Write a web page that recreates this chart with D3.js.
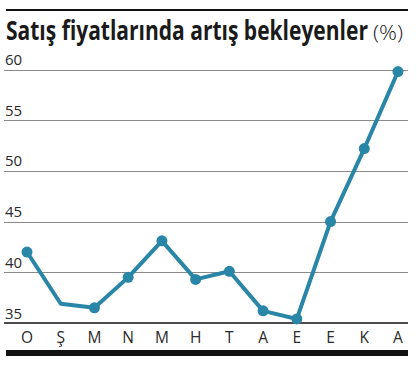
<!DOCTYPE html>
<html>
<head>
<meta charset="utf-8">
<script src="https://cdn.jsdelivr.net/npm/d3@7"></script>
<style>
	body { margin: 0; background: #fff; }
	svg { display: block; }
</style>
</head>
<body>
<script>
	let months = ['O', 'Ş', 'M', 'N', 'M', 'H', 'T', 'A', 'E', 'E', 'K', 'A']
	let values = [42, 36.9, 36.5, 39.5, 43.1, 39.3, 40.1, 36.2, 35.4, 45, 52.2, 59.8]
	// the second month has no dot in the original
	let hasDot = [true, false, true, true, true, true, true, true, true, true, true, true]
	let yTicks = [35, 40, 45, 50, 55, 60]

	let svgWidth = 417
	let svgHeight = 373
	let lineColor = '#2a86a6'

	let svg = d3.select('body').append('svg').attr('width', svgWidth).attr('height', svgHeight)

	let x = d3.scalePoint().domain(d3.range(months.length)).range([27, 398])
	let y = d3.scaleLinear().domain([35, 60]).range([323, 69.5])

	// top rule
	svg.append('rect').attr('x', 6).attr('y', 9).attr('width', 402).attr('height', 2).attr('fill', '#111')

	// squeeze a text horizontally so it fits a given width
	function fitText(sel, left, width){
		let w = sel.node().getComputedTextLength()
		let k = width / w
		sel.attr('x', 0).attr('transform', `translate(${left},0) scale(${k},1)`)
	}

	// title
	let title = svg.append('text').attr('y', 40)
		.attr('font-family', 'Open Sans, sans-serif').attr('fill', '#1a1a1a')
		.attr('font-weight', 700).attr('font-size', 26.5)
		.text('Satış fiyatlarında artış bekleyenler')
	fitText(title, 6, 362)
	let unit = svg.append('text').attr('y', 40)
		.attr('font-family', 'Open Sans, sans-serif').attr('fill', '#1a1a1a')
		.attr('font-size', 21).attr('font-weight', 300)
		.text('(%)')
	fitText(unit, 373, 30)

	// grid lines and labels
	let grid = svg.append('g')
	grid.selectAll('line').data(yTicks.filter(d => d > 35)).enter().append('line')
		.attr('x1', 4).attr('x2', 408)
		.attr('y1', d => Math.round(y(d)) + 0.5).attr('y2', d => Math.round(y(d)) + 0.5)
		.attr('stroke', '#8a8a8a').attr('stroke-width', 1)
	grid.selectAll('text').data(yTicks).enter().append('text')
		.attr('x', 5).attr('y', d => y(d) - 4.5)
		.attr('font-family', 'Open Sans, sans-serif').attr('font-size', 15).attr('fill', '#2a2a2a')
		.text(d => d)

	// baseline
	svg.append('line').attr('x1', 4).attr('x2', 408).attr('y1', y(35)).attr('y2', y(35))
		.attr('stroke', '#111').attr('stroke-width', 1.5)

	// month labels
	svg.append('g').selectAll('text').data(months).enter().append('text')
		.attr('x', (d, i) => x(i)).attr('y', 343)
		.attr('text-anchor', 'middle')
		.attr('font-family', 'Open Sans, sans-serif').attr('font-size', 15.5).attr('fill', '#2a2a2a')
		.text(d => d)

	// bottom bar
	svg.append('rect').attr('x', 6).attr('y', 350).attr('width', 402).attr('height', 6).attr('fill', '#111')

	// the line
	let line = d3.line().x((d, i) => x(i)).y(d => y(d))
	svg.append('path').datum(values).attr('d', line)
		.attr('fill', 'none').attr('stroke', lineColor).attr('stroke-width', 4)
		.attr('stroke-linejoin', 'round')

	svg.append('g').selectAll('circle').data(values.map((v, i) => ({v: v, i: i})).filter(d => hasDot[d.i]))
		.enter().append('circle')
		.attr('cx', d => x(d.i)).attr('cy', d => y(d.v)).attr('r', 5.5)
		.attr('fill', lineColor)
</script>
</body>
</html>
